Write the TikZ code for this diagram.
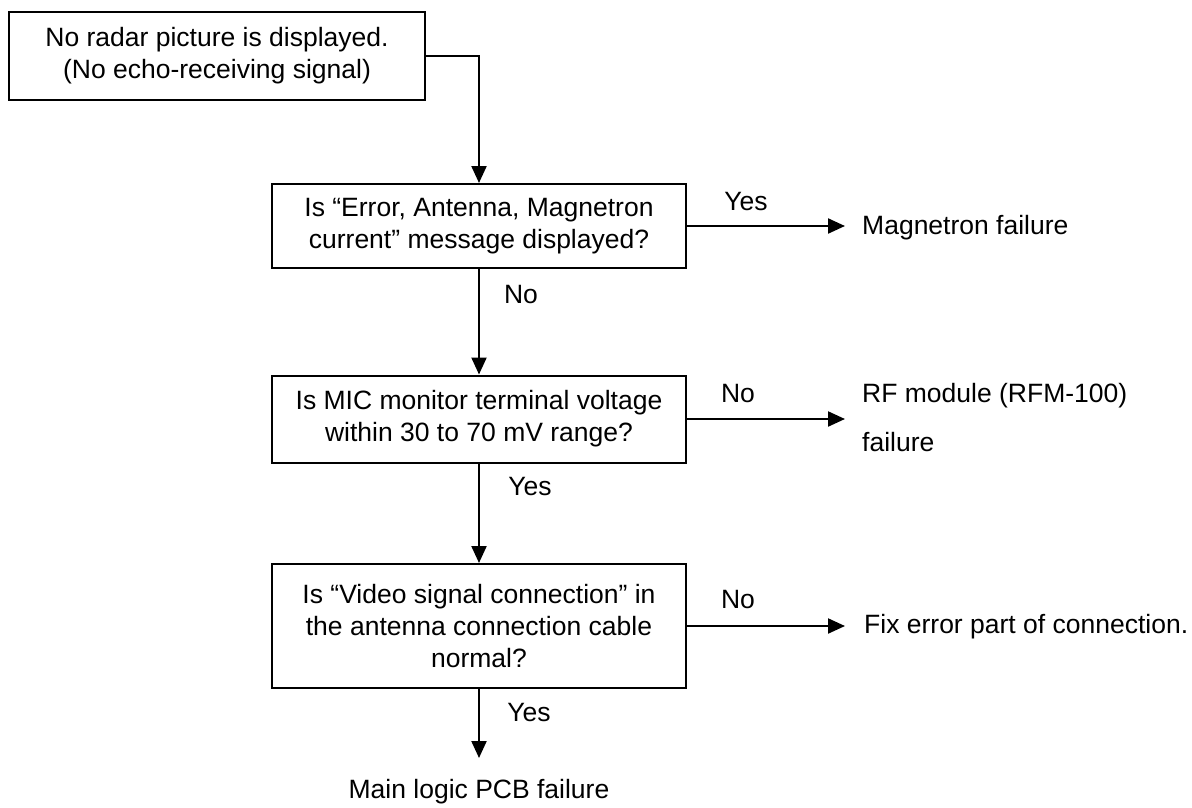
\documentclass[tikz,border=0pt]{standalone}
\usepackage{fontspec}
\setmainfont{Liberation Sans}
\usetikzlibrary{arrows.meta}
\begin{document}
\begin{tikzpicture}[x=1pt,y=-1pt,
  every node/.style={font=\fontsize{26.5}{32}\selectfont},
  box/.style={draw, line width=2pt, align=center, inner sep=0pt, minimum width=414pt},
  lbl/.style={inner sep=0pt},
  conn/.style={line width=2.2pt, -{Triangle[length=17pt,width=15pt]}}]
\useasboundingbox (0,0) rectangle (1192,808);
\node[box, minimum width=416pt, minimum height=88pt] (b1) at (217,56) {No radar picture is displayed.\\(No echo-receiving signal)};
\node[box, minimum height=84pt] (b2) at (479,226) {Is “Error, Antenna, Magnetron\\current” message displayed?};
\node[box, minimum height=87pt] (b3) at (479,419) {Is MIC monitor terminal voltage\\within 30 to 70 mV range?};
\node[box, minimum height=124pt] (b4) at (479,626) {Is “Video signal connection” in\\the antenna connection cable\\normal?};
\coordinate (t2) at (845,226);
\coordinate (t3) at (845,419);
\coordinate (t4) at (845,626);
\coordinate (t5) at (479,758);
\draw[conn] (b1.east) -| (b2.north);
\draw[conn] (b2.east) -- (t2);
\draw[conn] (b2.south) -- (b3.north);
\draw[conn] (b3.east) -- (t3);
\draw[conn] (b3.south) -- (b4.north);
\draw[conn] (b4.east) -- (t4);
\draw[conn] (b4.south) -- (t5);
\node[lbl] (y2) at (746,202) {Yes};
\node[lbl] (n2) at (521,295) {No};
\node[lbl] (n3) at (738,394) {No};
\node[lbl] (y3) at (530,487) {Yes};
\node[lbl] (n4) at (738,600) {No};
\node[lbl] (y4) at (529,713) {Yes};
\node[lbl, anchor=west] (r2) at (862,228) {Magnetron failure};
\node[lbl, anchor=west] (r3a) at (862,396) {RF module (RFM-100)};
\node[lbl, anchor=west] (r3b) at (862,442) {failure};
\node[lbl, anchor=west] (r4) at (864,627) {Fix error part of connection.};
\node[lbl] (m) at (479,792) {Main logic PCB failure};
\end{tikzpicture}
\end{document}
